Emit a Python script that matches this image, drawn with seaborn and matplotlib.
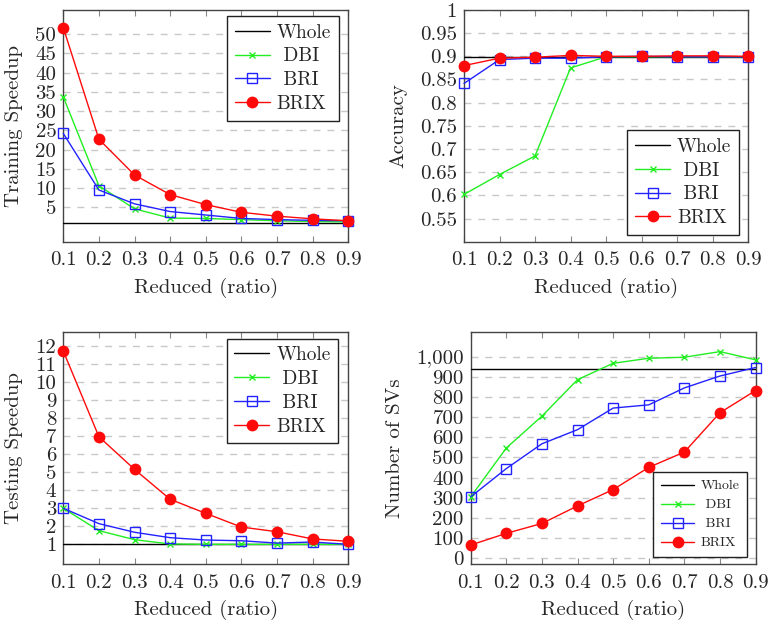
import matplotlib
matplotlib.use("Agg")
import matplotlib.pyplot as plt
import pandas as pd
import seaborn as sns

ratios = [0.1, 0.2, 0.3, 0.4, 0.5, 0.6, 0.7, 0.8, 0.9]
methods = ["DBI", "BRI", "BRIX"]

train_whole = 1.0
train_dbi = [33.7, 10.6, 4.6, 2.2, 2.1, 1.8, 1.5, 1.3, 1.2]
train_bri = [24.2, 9.5, 5.9, 3.9, 3.0, 2.1, 1.8, 1.6, 1.5]
train_brix = [51.7, 22.7, 13.4, 8.3, 5.7, 3.7, 2.7, 2.0, 1.5]

acc_whole = 0.898
acc_dbi = [0.602, 0.645, 0.685, 0.875, 0.899, 0.899, 0.899, 0.899, 0.899]
acc_bri = [0.8415, 0.893, 0.896, 0.896, 0.899, 0.900, 0.899, 0.899, 0.899]
acc_brix = [0.880, 0.896, 0.898, 0.902, 0.900, 0.900, 0.901, 0.901, 0.900]

test_whole = 1.0
test_dbi = [3.0, 1.76, 1.26, 1.02, 1.0, 1.0, 1.0, 1.0, 1.0]
test_bri = [3.0, 2.15, 1.67, 1.37, 1.24, 1.2, 1.07, 1.13, 1.0]
test_brix = [11.72, 6.97, 5.16, 3.5, 2.72, 1.96, 1.7, 1.3, 1.17]

sv_whole = 937
sv_dbi = [305, 547, 705, 886, 967, 992, 997, 1025, 984]
sv_bri = [305, 445, 568, 638, 745, 761, 845, 904, 946]
sv_brix = [66, 124, 173, 260, 341, 451, 527, 722, 832]

x_ticks = [0.1, 0.2, 0.3, 0.4, 0.5, 0.6, 0.7, 0.8, 0.9]
train_ticks = [5, 10, 15, 20, 25, 30, 35, 40, 45, 50]
acc_ticks = [0.55, 0.6, 0.65, 0.7, 0.75, 0.8, 0.85, 0.9, 0.95, 1.0]
acc_labels = ["0.55", "0.6", "0.65", "0.7", "0.75", "0.8", "0.85", "0.9", "0.95", "1"]
test_ticks = list(range(1, 13))
sv_ticks = [0, 100, 200, 300, 400, 500, 600, 700, 800, 900, 1000]
sv_labels = ["0", "100", "200", "300", "400", "500", "600", "700", "800", "900", "1,000"]

# legend labels, padded so they sit roughly centred like the pgfplots legend
legend_labels = ["Whole", " DBI", " BRI", "BRIX"]

sns.set_style("ticks")
plt.rcParams["font.family"] = ["cmr10", "DejaVu Serif"]
plt.rcParams["mathtext.fontset"] = "cm"
plt.rcParams["axes.formatter.use_mathtext"] = True

green, blue, red = "#22ee22", "#2222ff", "#ff0a0a"
styles = {
    "DBI": dict(color=green, marker="x", markersize=5, markeredgewidth=1.0,
                markeredgecolor=green),
    "BRI": dict(color=blue, marker="s", markersize=7, markerfacecolor="none",
                markeredgecolor=blue, markeredgewidth=1.0),
    "BRIX": dict(color=red, marker="o", markersize=8.5, markeredgewidth=0,
                 markerfacecolor=red),
}


def panel(ax, whole, series, ylim, yticks, ylabels, ylabel, legend_loc, anchor, small=False):
    ax.axhline(whole, color="black", lw=1.0, label="Whole", zorder=3)
    for name, vals in zip(methods, series):
        df = pd.DataFrame({"ratio": ratios, "value": vals})
        sns.lineplot(data=df, x="ratio", y="value", ax=ax, label=name, lw=1.0,
                     zorder=4, clip_on=False, **styles[name])
    ax.set_xlim(0.1, 0.9)
    ax.set_ylim(*ylim)
    ax.set_xticks(x_ticks)
    ax.set_xticklabels([str(t) for t in x_ticks])
    ax.set_yticks(yticks)
    ax.set_yticklabels(ylabels if ylabels else [str(t) for t in yticks])
    ax.yaxis.grid(True, ls=(0, (5, 5)), color="#c8c8c8", lw=1.0)
    ax.set_axisbelow(True)
    ax.tick_params(axis="both", direction="in", labelsize=15, length=4, color="#888888",
                   top=True, right=True)
    ax.tick_params(axis="x", pad=7)
    ax.tick_params(axis="y", length=0, pad=5)
    for s in ax.spines.values():
        s.set_color("#444444")
        s.set_linewidth(1.0)
    ax.set_xlabel("Reduced (ratio)", fontsize=15, labelpad=6)
    ax.set_ylabel(ylabel, fontsize=15, labelpad=9)
    handles, _ = ax.get_legend_handles_labels()
    if small:
        leg = ax.legend(handles, legend_labels, loc=legend_loc, bbox_to_anchor=anchor,
                        fontsize=10, frameon=True, fancybox=False, edgecolor="#222222",
                        framealpha=1, handlelength=2.4, handletextpad=0.45,
                        borderaxespad=0, labelspacing=0.45, borderpad=0.55)
    else:
        leg = ax.legend(handles, legend_labels, loc=legend_loc, bbox_to_anchor=anchor,
                        fontsize=14, frameon=True, fancybox=False, edgecolor="#222222",
                        framealpha=1, handlelength=1.8, handletextpad=0.35,
                        borderaxespad=0, labelspacing=0.3, borderpad=0.4)
    leg.get_frame().set_linewidth(1.0)


fig = plt.figure(figsize=(7.7, 6.23), dpi=100)
ax1 = fig.add_axes([0.0822, 0.612, 0.370, 0.372])
ax2 = fig.add_axes([0.6026, 0.612, 0.369, 0.372])
ax3 = fig.add_axes([0.0822, 0.0947, 0.370, 0.373])
ax4 = fig.add_axes([0.6113, 0.0947, 0.370, 0.373])

panel(ax1, train_whole, [train_dbi, train_bri, train_brix], (-3.95, 56.3), train_ticks, None,
      "Training Speedup", "upper right", (0.967, 0.974))
panel(ax2, acc_whole, [acc_dbi, acc_bri, acc_brix], (0.5, 1.0), acc_ticks, acc_labels,
      "Accuracy", "lower right", (0.968, 0.029))
panel(ax3, test_whole, [test_dbi, test_bri, test_brix], (-0.09, 12.8), test_ticks, None,
      "Testing Speedup", "upper right", (0.965, 0.97))
panel(ax4, sv_whole, [sv_dbi, sv_bri, sv_brix], (-28, 1124), sv_ticks, sv_labels,
      "Number of SVs", "lower right", (0.97, 0.03), small=True)

fig.savefig("out.png", dpi=100)
